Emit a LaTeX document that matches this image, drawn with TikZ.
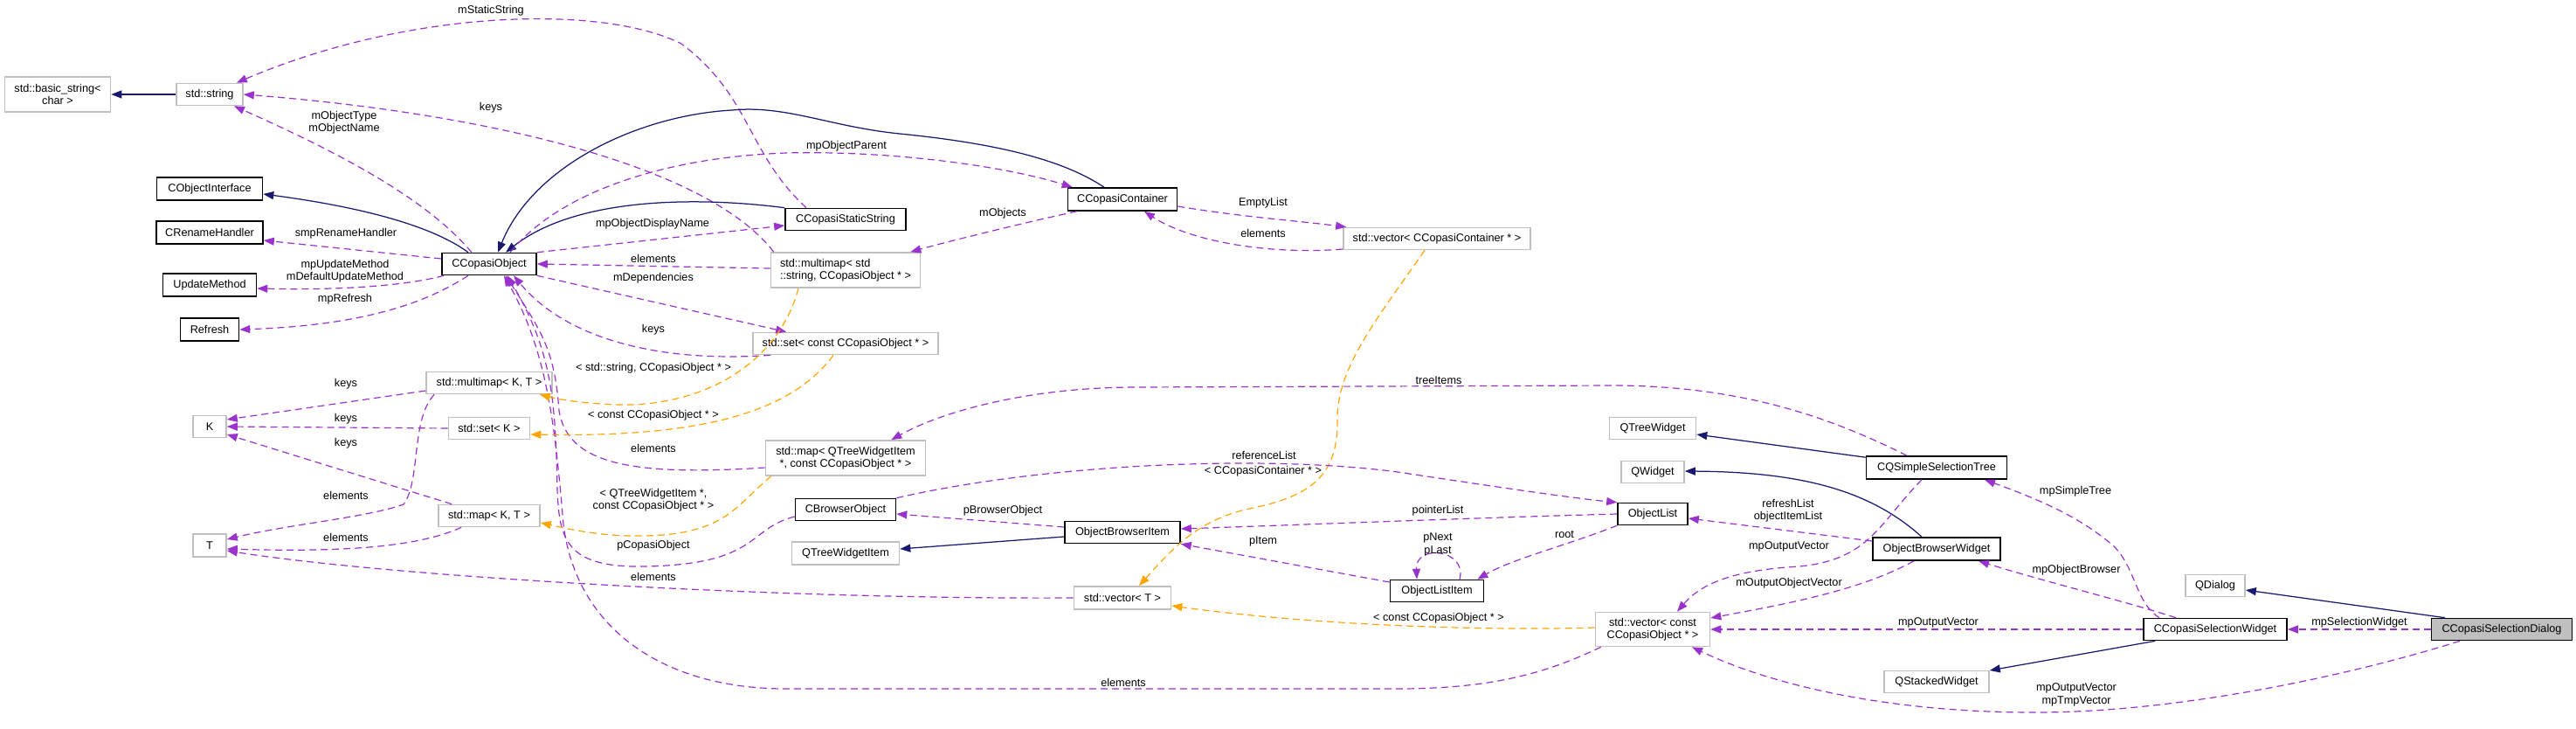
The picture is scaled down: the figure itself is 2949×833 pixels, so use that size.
\documentclass[tikz,border=0pt]{standalone}
\usepackage{fontspec}
\setmainfont{Liberation Sans}
\usetikzlibrary{arrows.meta}
\definecolor{navy}{RGB}{25,25,112}
\definecolor{purp}{RGB}{154,50,205}
\definecolor{orng}{RGB}{255,165,0}
\definecolor{boxgray}{RGB}{191,191,191}
\newcommand\dxfont{\fontsize{12.7pt}{14.5pt}\selectfont}
\tikzset{
  cls/.style={draw=black, line width=1.6pt, fill=white, font=\dxfont, inner sep=0pt, minimum height=25pt, align=center, text=black},
  ext/.style={cls, draw=boxgray},
  lab/.style={font=\dxfont, inner sep=0pt, align=center, text=black},
  tip/.style={-{Triangle[length=12pt,width=9pt]}},
  inh/.style={draw=navy, line width=1.25pt, tip},
  use/.style={draw=purp, line width=1.2pt, dash pattern=on 8pt off 5pt, tip},
  tmpl/.style={draw=orng, line width=1.2pt, dash pattern=on 8pt off 5pt, tip},
}
\begin{document}
\begin{tikzpicture}[x=1pt,y=-1pt]
\useasboundingbox (0,0) rectangle (2949,833);
% ---------- nodes ----------
\node[ext, minimum width=121pt, minimum height=40pt] (bstr) at (66,108) {std::basic\_string<\\char >};
\node[ext, minimum width=76pt] (str) at (240,108) {std::string};
\node[cls, minimum width=121pt, minimum height=26pt] (coi) at (240,216) {CObjectInterface};
\node[cls, minimum width=122pt, minimum height=26pt] (crh) at (240,266) {CRenameHandler};
\node[cls, minimum width=107pt, minimum height=26pt] (upd) at (240,326) {UpdateMethod};
\node[cls, minimum width=67pt, minimum height=26pt] (refr) at (240,377) {Refresh};
\node[ext, minimum width=38pt] (K) at (240,488) {K};
\node[ext, minimum width=38pt, minimum height=26pt] (T) at (240,624) {T};
\node[cls, minimum width=108pt] (cobj) at (560,302) {CCopasiObject};
\node[ext, minimum width=144pt] (mmKT) at (560,438) {std::multimap< K, T >};
\node[ext, minimum width=93pt] (setK) at (560,490) {std::set< K >};
\node[ext, minimum width=116pt] (mapKT) at (560,590) {std::map< K, T >};
\node[cls, minimum width=138pt] (css) at (968,251) {CCopasiStaticString};
\node[ext, minimum width=171pt, minimum height=40pt, align=left] (mmstr) at (968,309) {std::multimap< std\\::string, CCopasiObject * >};
\node[ext, minimum width=212pt] (setc) at (968,393) {std::set< const CCopasiObject * >};
\node[ext, minimum width=183pt, minimum height=40pt] (mapq) at (968,524) {std::map< QTreeWidgetItem\\*, const CCopasiObject * >};
\node[cls, minimum width=115pt] (cbo) at (968,583) {CBrowserObject};
\node[ext, minimum width=123pt, minimum height=26pt] (qtwi) at (968,633) {QTreeWidgetItem};
\node[cls, minimum width=125pt, minimum height=26pt] (ccont) at (1285,228) {CCopasiContainer};
\node[cls, minimum width=132pt] (obi) at (1285,609) {ObjectBrowserItem};
\node[ext, minimum width=111pt, minimum height=26pt] (vecT) at (1285,684) {std::vector< T >};
\node[ext, minimum width=214pt] (vecc) at (1645,273) {std::vector< CCopasiContainer * >};
\node[cls, minimum width=107pt] (oli) at (1645,676) {ObjectListItem};
\node[ext, minimum width=99pt] (qtw) at (1892,490) {QTreeWidget};
\node[ext, minimum width=72pt] (qw) at (1892,540) {QWidget};
\node[cls, minimum width=80pt] (ol) at (1892,588) {ObjectList};
\node[ext, minimum width=131pt, minimum height=39pt] (vecco) at (1892,720) {std::vector< const\\CCopasiObject * >};
\node[cls, minimum width=161pt, minimum height=26pt] (cqs) at (2217,535) {CQSimpleSelectionTree};
\node[cls, minimum width=146pt, minimum height=26pt] (obw) at (2217,628) {ObjectBrowserWidget};
\node[ext, minimum width=120pt] (qsw) at (2217,780) {QStackedWidget};
\node[ext, minimum width=68pt] (qd) at (2536,670) {QDialog};
\node[cls, minimum width=164pt] (csw) at (2536,720) {CCopasiSelectionWidget};
\node[cls, minimum width=161pt, fill=boxgray] (csd) at (2864,720) {CCopasiSelectionDialog};
% ---------- edges ----------
\draw[inh] (str) -- (bstr);
\draw[use] ([xshift=-45pt]css.north) .. controls (855,175) and (860,110) .. (780,50) .. controls (690,5) and (470,10) .. ([xshift=-8pt]str.north east);
\draw[use] ([xshift=4pt]mmstr.north west) .. controls (810,190) and (560,130) .. (str.east);
\draw[use] ([xshift=-20pt]cobj.north) .. controls (490,230) and (400,180) .. ([xshift=28pt]str.south);
\draw[inh] ([xshift=-24pt]cobj.north) .. controls (490,255) and (400,235) .. ([yshift=-6pt]coi.east);
\draw[use] ([yshift=6pt]cobj.west) -- ([yshift=-9pt]crh.east);
\draw[use] ([xshift=3pt]cobj.south west) .. controls (460,328) and (380,332) .. ([yshift=-4pt]upd.east);
\draw[use] ([xshift=-24pt]cobj.south) .. controls (490,345) and (420,372) .. (refr.east);
\draw[inh] (css.north west) .. controls (800,225) and (660,225) .. ([xshift=19pt]cobj.north);
\draw[inh] ([xshift=-21pt]ccont.north) .. controls (1220,185) and (1150,165) .. (1030,153) .. controls (950,145) and (900,120) .. (838,126) .. controls (730,132) and (610,190) .. ([xshift=10pt]cobj.north);
\draw[use] ([xshift=24pt]cobj.north) .. controls (640,220) and (760,180) .. (900,175) .. controls (1020,172) and (1150,190) .. ([xshift=6pt]ccont.north west);
\draw[use] (cobj.north east) -- ([yshift=-7pt]css.west);
\draw[use] ([yshift=2pt]mmstr.west) -- (cobj.east);
\draw[use] (cobj.south east) -- ([xshift=39pt]setc.north west);
\draw[use] ([xshift=21pt]setc.south west) .. controls (760,415) and (650,390) .. ([xshift=28pt]cobj.south);
\draw[use] ([xshift=7pt]vecco.south west) .. controls (1780,765) and (1720,788) .. (1600,788) -- (900,788) .. controls (760,788) and (660,720) .. (645,600) .. controls (635,480) and (625,400) .. ([xshift=17pt]cobj.south);
\draw[use] ([yshift=-11pt]mapq.west) .. controls (720,545) and (650,530) .. (640,470) .. controls (635,400) and (620,380) .. ([xshift=19pt]cobj.south);
\draw[use] ([yshift=-8pt]cbo.west) .. controls (855,605) and (870,645) .. (740,648) .. controls (650,650) and (640,620) .. (638,560) .. controls (636,450) and (630,400) .. ([xshift=21pt]cobj.south);
\draw[use] ([xshift=11pt]ccont.south west) .. controls (1180,253) and (1090,275) .. ([xshift=-12pt]mmstr.north east);
\draw[use] ([yshift=-8pt]ccont.east) .. controls (1420,248) and (1480,252) .. ([xshift=4pt]vecc.north west);
\draw[use] ([yshift=-12pt]vecc.west) .. controls (1450,292) and (1360,275) .. ([xshift=25pt]ccont.south);
\draw[tmpl] ([xshift=-14pt]vecc.south) .. controls (1580,360) and (1530,420) .. (1531,480) .. controls (1532,545) and (1500,568) .. (1430,582) .. controls (1370,595) and (1340,630) .. ([xshift=19pt]vecT.north);
\draw[tmpl] ([yshift=2pt]vecco.west) .. controls (1700,722) and (1500,715) .. ([yshift=-9pt]vecT.east);
\draw[tmpl] ([xshift=-54pt]mmstr.south) .. controls (890,420) and (800,465) .. (709,463) .. controls (670,462) and (640,457) .. ([xshift=-15pt]mmKT.south east);
\draw[tmpl] ([xshift=-14pt]setc.south) .. controls (900,480) and (780,500) .. ([yshift=-7pt]setK.east);
\draw[tmpl] ([xshift=7pt]mapq.south west) .. controls (840,580) and (830,615) .. (720,613) .. controls (680,612) and (650,605) .. ([yshift=-8pt]mapKT.east);
\draw[use] ([yshift=-9pt]mmKT.west) -- ([yshift=8pt]K.east);
\draw[use] (setK.west) -- (K.east);
\draw[use] ([xshift=16pt]mapKT.north west) -- ([yshift=-9pt]K.east);
\draw[use] ([xshift=10pt]mmKT.south west) .. controls (470,480) and (482,550) .. (462,577) .. controls (420,592) and (330,600) .. ([yshift=7pt]T.east);
\draw[use] ([xshift=27pt]mapKT.south west) .. controls (480,625) and (400,632) .. ([yshift=-4pt]T.east);
\draw[use] (vecT.west) .. controls (900,686) and (450,660) .. ([yshift=-6pt]T.east);
\draw[use] ([xshift=-34pt]cqs.north) .. controls (2100,480) and (2000,442) .. (1850,441) -- (1300,443) .. controls (1180,443) and (1080,470) .. ([xshift=-40pt]mapq.north east);
\draw[use] (cbo.north east) .. controls (1200,530) and (1450,520) .. (1600,540) .. controls (1700,555) and (1800,570) .. (ol.north west);
\draw[use] ([yshift=6pt]obi.west) -- ([yshift=-5pt]cbo.east);
\draw[inh] ([yshift=-5pt]obi.west) -- ([yshift=5pt]qtwi.east);
\draw[use] (ol.west) .. controls (1700,592) and (1500,600) .. ([yshift=4pt]obi.east);
\draw[use] ([yshift=10pt]oli.west) -- (obi.south east);
\draw[use] ([xshift=26pt]oli.north) .. controls (1680,628) and (1620,622) .. ([xshift=-23pt]oli.north);
\draw[use] (ol.south west) .. controls (1790,625) and (1730,640) .. ([xshift=-8pt]oli.north east);
\draw[inh] ([yshift=-2pt]cqs.north west) -- ([yshift=-7pt]qtw.east);
\draw[inh] ([xshift=-17pt]obw.north) .. controls (2140,560) and (2060,540) .. ([yshift=1pt]qw.east);
\draw[use] ([yshift=9pt]obw.west) -- ([yshift=-5pt]ol.east);
\draw[use] ([xshift=-17pt]cqs.south) .. controls (2150,600) and (2140,640) .. (2060,648) .. controls (1990,652) and (1950,665) .. ([xshift=28pt]vecco.north);
\draw[use] ([xshift=-26pt]obw.south) .. controls (2130,675) and (2050,690) .. ([yshift=13pt]vecco.east);
\draw[use] (csw.west) -- (vecco.east);
\draw[use] ([xshift=-48pt]csd.south) .. controls (2700,770) and (2500,815) .. (2330,815) .. controls (2150,815) and (2020,780) .. ([xshift=45pt]vecco.south);
\draw[use] ([xshift=-64pt]csw.north) .. controls (2445,690) and (2445,650) .. (2420,625) .. controls (2380,590) and (2330,570) .. ([xshift=55pt]cqs.south);
\draw[use] ([xshift=-45pt]csw.north) .. controls (2440,690) and (2340,665) .. ([xshift=48pt]obw.south);
\draw[inh] ([xshift=14pt]csw.south west) -- ([yshift=13pt]qsw.east);
\draw[use] (csd.west) -- (csw.east);
\draw[inh] ([xshift=-65pt]csd.north) -- ([yshift=-5pt]qd.east);
% ---------- labels ----------
\node[lab] (lMStatic) at (562,12) {mStaticString};
\node[lab] (lKeys1) at (562,123) {keys};
\node[lab] (lObjType) at (394,140) {mObjectType\\mObjectName};
\node[lab] (lRename) at (396,267) {smpRenameHandler};
\node[lab] (lUpd) at (395,310) {mpUpdateMethod\\mDefaultUpdateMethod};
\node[lab] (lRefresh) at (395,342) {mpRefresh};
\node[lab] (lParent) at (969,167) {mpObjectParent};
\node[lab] (lDisp) at (747,256) {mpObjectDisplayName};
\node[lab] (lElem1) at (748,296) {elements};
\node[lab] (lDeps) at (748,318) {mDependencies};
\node[lab] (lKeys2) at (748,377) {keys};
\node[lab] (lMObj) at (1148,244) {mObjects};
\node[lab] (lEmpty) at (1446,232) {EmptyList};
\node[lab] (lElem2) at (1446,267) {elements};
\node[lab] (lTpl1) at (748,421) {< std::string, CCopasiObject * >};
\node[lab] (lTpl2) at (748,475) {< const CCopasiObject * >};
\node[lab] (lElem3) at (748,513) {elements};
\node[lab] (lTpl3) at (748,572) {< QTreeWidgetItem *,\\const CCopasiObject * >};
\node[lab] (lPCop) at (748,624) {pCopasiObject};
\node[lab] (lElem4) at (748,660) {elements};
\node[lab] (lKeysK1) at (396,439) {keys};
\node[lab] (lKeysK2) at (396,479) {keys};
\node[lab] (lKeysK3) at (396,507) {keys};
\node[lab] (lElemT1) at (396,567) {elements};
\node[lab] (lElemT2) at (396,615) {elements};
\node[lab] (lTree) at (1647,435) {treeItems};
\node[lab] (lRef) at (1447,521) {referenceList};
\node[lab] (lTpl4) at (1446,539) {< CCopasiContainer * >};
\node[lab] (lPBrow) at (1148,584) {pBrowserObject};
\node[lab] (lPtr) at (1646,584) {pointerList};
\node[lab] (lPItem) at (1446,619) {pItem};
\node[lab] (lNext) at (1646,623) {pNext\\pLast};
\node[lab] (lTpl5) at (1647,707) {< const CCopasiObject * >};
\node[lab] (lElem5) at (1286,781) {elements};
\node[lab] (lRoot) at (1791,611) {root};
\node[lab] (lRefr) at (2047,584) {refreshList\\objectItemList};
\node[lab] (lOut1) at (2048,625) {mpOutputVector};
\node[lab] (lOOV) at (2048,667) {mOutputObjectVector};
\node[lab] (lOut2) at (2219,712) {mpOutputVector};
\node[lab] (lSimple) at (2376,562) {mpSimpleTree};
\node[lab] (lOB) at (2377,652) {mpObjectBrowser};
\node[lab] (lOutTmp) at (2377,795) {mpOutputVector\\mpTmpVector};
\node[lab] (lSel) at (2701,712) {mpSelectionWidget};
\end{tikzpicture}
\end{document}
